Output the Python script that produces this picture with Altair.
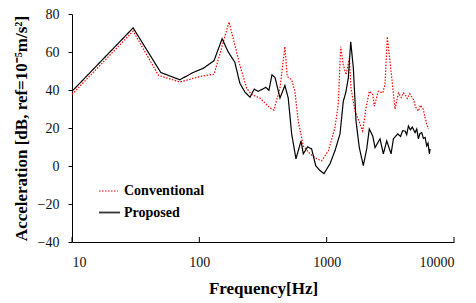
import altair as alt
import pandas as pd

# Proposed (black solid)
prop_freq = [10, 30.2, 49.8, 70.3, 89.4, 108, 130.6, 151, 168, 190, 208, 228, 250, 270, 290, 333, 352, 372, 393,
             430, 470, 499, 531, 574, 629, 655, 709, 762, 820, 886, 953, 1062, 1162, 1273, 1351, 1410, 1479, 1545,
             1620, 1700, 1804, 1940, 2063, 2162, 2300, 2398, 2625, 2786, 2963, 3205, 3343, 3615, 3800, 3950, 4130,
             4250, 4385, 4550, 4700, 4947, 5100, 5250, 5400, 5580, 5750, 5930, 6110, 6250, 6410, 6490]
prop_db = [39.3, 72.7, 49.2, 45.4, 49.2, 51.5, 55.5, 67, 60.2, 54.6, 43.6, 38.9, 36.2, 40.5, 39.3, 41.4, 39.8, 48, 46.6,
           35.8, 42.4, 35.8, 16.9, 3.8, 13.2, 6.4, 10.1, 9, 0.2, -2.4, -4, 1.2, 8, 16.9, 34.1, 38.4, 46.2, 65.4,
           51.5, 23.7, 9.7, 0.2, 9, 19.5, 15.8, 9.7, 14.3, 6.4, 13.2, 6.4, 14.3, 16.9, 15.5, 18.5, 18.4,
           16.5, 21, 19, 20.5, 17.6, 19.5, 14.3, 17, 17.6, 14.5, 15, 10.6, 12, 6.4, 9]

# Conventional (red dotted)
conv_freq = [10, 30.2, 47.8, 70.3, 101, 130.6, 171, 184.5, 208, 235, 257, 299, 358, 385, 430, 470, 490, 531, 563,
             598, 655, 739, 834, 913, 1031, 1162, 1233, 1288, 1351, 1419, 1507, 1553, 1669, 1828, 1919, 2037, 2162,
             2300, 2367, 2546, 2754, 2873, 2994, 3258, 3444, 3656, 3850, 4000, 4130, 4300, 4500, 4800, 5000, 5250,
             5450, 5740, 5900, 6110, 6290]
conv_db = [37.7, 71, 47.7, 44.2, 47.1, 48.3, 75.8, 67.1, 53.2, 41, 37.6, 35.8, 30.6, 29.4, 41, 62.8, 47.1, 45.4, 39.3,
           23.7, 10.6, 6.4, 3.8, 2.8, 8, 20.2, 32.5, 62.8, 53.2, 48, 56.7, 41, 28.9, 22.1, 18.4, 30.6, 39.3,
           37.6, 31.5, 39.3, 38.4, 43, 68, 45.4, 29.9, 38.4, 36, 38.5, 37.6, 35.5, 38, 35, 31, 28.9,
           32, 29.9, 26, 22.1, 19.5]

series_names = ["Conventional", "Proposed"]
x_ticks = [10, 100, 1000, 10000]
y_ticks = [-40, -20, 0, 20, 40, 60, 80]

FONT = "Liberation Serif"

df = pd.concat([
    pd.DataFrame({"freq": conv_freq, "db": conv_db, "series": series_names[0], "order": range(len(conv_freq))}),
    pd.DataFrame({"freq": prop_freq, "db": prop_db, "series": series_names[1], "order": range(len(prop_freq))}),
])

xscale = alt.Scale(type="log", domain=[10, 10000], nice=False)
yscale = alt.Scale(domain=[-40, 80], nice=False, zero=False)

lines = alt.Chart(df).mark_line(strokeWidth=1.2).encode(
    x=alt.X("freq:Q", scale=xscale,
            axis=alt.Axis(title="Frequency[Hz]", values=x_ticks, format="d", ticks=False, tickSize=0,
                          labelPadding=13, titlePadding=11, grid=False)),
    y=alt.Y("db:Q", scale=yscale,
            axis=alt.Axis(title="Acceleration [dB, ref=10⁻⁵m/s²]", values=y_ticks, tickSize=4,
                          labelPadding=9, titlePadding=7, grid=False)),
    color=alt.Color("series:N", scale=alt.Scale(domain=series_names, range=["#ff0000", "#000000"]), legend=None),
    strokeDash=alt.StrokeDash("series:N", scale=alt.Scale(domain=series_names, range=[[1.5, 1.5], [1, 0]]),
                              legend=None),
    order="order:Q",
)

tick_df = pd.DataFrame({"t": x_ticks})
xticks = alt.Chart(tick_df).mark_rule(color="black", strokeWidth=1).encode(
    x=alt.X("t:Q", scale=xscale),
    y=alt.value(228),
    y2=alt.value(223),
)

leg_df = pd.DataFrame({"label": series_names})
leg_conv_line = alt.Chart(leg_df.iloc[[0]]).mark_rule(color="#ff0000", strokeDash=[1.5, 1.5], strokeWidth=1.2).encode(
    x=alt.value(27), x2=alt.value(46), y=alt.value(177))
leg_prop_line = alt.Chart(leg_df.iloc[[1]]).mark_rule(color="#333333", strokeWidth=1.8).encode(
    x=alt.value(27), x2=alt.value(48), y=alt.value(198.5))
leg_conv_txt = alt.Chart(leg_df.iloc[[0]]).mark_text(align="left", baseline="middle", font=FONT, fontSize=14,
                                                     fontWeight="bold", color="black").encode(
    x=alt.value(52), y=alt.value(177), text="label:N")
leg_prop_txt = alt.Chart(leg_df.iloc[[1]]).mark_text(align="left", baseline="middle", font=FONT, fontSize=14,
                                                     fontWeight="bold", color="black").encode(
    x=alt.value(52), y=alt.value(199), text="label:N")

chart = alt.layer(lines, xticks, leg_conv_line, leg_prop_line, leg_conv_txt, leg_prop_txt).properties(
    width=382, height=228,
    autosize=alt.AutoSizeParams(type="none"),
    padding={"left": 64, "top": 6, "right": 14, "bottom": 58},
).configure_view(stroke=None).configure_axis(
    labelFont=FONT, labelFontSize=14, labelColor="#111",
    titleFont=FONT, titleFontSize=17, titleFontWeight="bold", titleColor="black",
    domainColor="black", domainWidth=1, tickColor="black",
)

chart.save("out.html", embed_options={"renderer": "svg", "actions": False})
